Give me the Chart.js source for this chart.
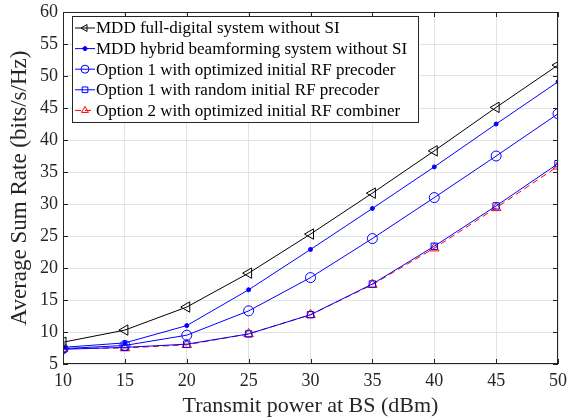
<!DOCTYPE html>
<html>
<head>
<meta charset="utf-8">
<script src="https://cdn.jsdelivr.net/npm/chart.js@4/dist/chart.umd.min.js"></script>
<style>
  html, body { margin: 0; padding: 0; background: #fff; }
  #wrap { width: 568px; height: 419px; }
</style>
</head>
<body>
<div id="wrap"><canvas id="c" width="568" height="419"></canvas></div>
<script>
// datos
var power = [10, 15, 20, 25, 30, 35, 40, 45, 50];
var fullDigital = [8.4, 10.3, 13.9, 19.2, 25.3, 31.7, 38.3, 45.1, 51.7];
var hybrid = [7.6, 8.3, 11.0, 16.6, 22.9, 29.3, 35.8, 42.5, 49.1];
var opt1Optimized = [7.4, 7.9, 9.5, 13.3, 18.5, 24.6, 31.0, 37.5, 44.1];
var opt1Random = [7.3, 7.6, 8.1, 9.7, 12.7, 17.5, 23.4, 29.7, 36.3];
var opt2Optimized = [7.4, 7.5, 8.0, 9.7, 12.7, 17.4, 23.1, 29.4, 35.9];
var xTicks = [10, 15, 20, 25, 30, 35, 40, 45, 50];
var yTicks = [5, 10, 15, 20, 25, 30, 35, 40, 45, 50, 55, 60];
var labels = [
    "MDD full-digital system without SI",
    "MDD hybrid beamforming system without SI",
    "Option 1 with optimized initial RF precoder",
    "Option 1 with random initial RF precoder",
    "Option 2 with optimized initial RF combiner"
];

var FONT = "'Liberation Serif', 'Times New Roman', serif";

function pts(vals) {
    return vals.map(function (v, i) { return { x: power[i], y: v }; });
}

var datasets = [
    { label: labels[0], data: pts(fullDigital), borderColor: "#000", pointBorderColor: "#000",
      pointBackgroundColor: "rgba(0,0,0,0)", pointStyle: "triangle", pointRotation: -90, pointRadius: 6, borderDash: [] },
    { label: labels[1], data: pts(hybrid), borderColor: "#0000ff", pointBorderColor: "#0000ff",
      pointBackgroundColor: "#0000ff", pointStyle: "circle", pointRadius: 2, borderDash: [] },
    { label: labels[2], data: pts(opt1Optimized), borderColor: "#0000ff", pointBorderColor: "#0000ff",
      pointBackgroundColor: "rgba(0,0,0,0)", pointStyle: "circle", pointRadius: 5, borderDash: [] },
    { label: labels[3], data: pts(opt1Random), borderColor: "#0000ff", pointBorderColor: "#0000ff",
      pointBackgroundColor: "rgba(0,0,0,0)", pointStyle: "rect", pointRadius: 4.5, borderDash: [] },
    { label: labels[4], data: pts(opt2Optimized), borderColor: "#ff0000", pointBorderColor: "#ff0000",
      pointBackgroundColor: "rgba(0,0,0,0)", pointStyle: "triangle", pointRadius: 5.5, borderDash: [6, 4] }
];
datasets.forEach(function (d) {
    d.borderWidth = 1;
    d.pointBorderWidth = 1;
    d.fill = false;
    d.tension = 0;
});

// caja, marcas hacia dentro y leyenda estilo matlab
var boxPlugin = {
    id: "box",
    afterDraw: function (chart) {
        var ctx = chart.ctx;
        var a = chart.chartArea;
        var xs = chart.scales.x, ys = chart.scales.y;
        ctx.save();
        ctx.strokeStyle = "#262626";
        ctx.lineWidth = 1;
        ctx.strokeRect(a.left + 0.5, a.top + 0.5, a.right - a.left - 1, a.bottom - a.top - 1);
        ctx.beginPath();
        xTicks.forEach(function (t) {
            var px = Math.round(xs.getPixelForValue(t)) + 0.5;
            ctx.moveTo(px, a.bottom); ctx.lineTo(px, a.bottom - 5);
            ctx.moveTo(px, a.top); ctx.lineTo(px, a.top + 5);
        });
        yTicks.forEach(function (t) {
            var py = Math.round(ys.getPixelForValue(t)) + 0.5;
            ctx.moveTo(a.left, py); ctx.lineTo(a.left + 5, py);
            ctx.moveTo(a.right, py); ctx.lineTo(a.right - 5, py);
        });
        ctx.stroke();

        // leyenda
        var lx = 72, ly = 16, lw = 346, lh = 106, rowH = 20.6;
        ctx.fillStyle = "#fff";
        ctx.fillRect(lx, ly, lw, lh);
        ctx.strokeStyle = "#262626";
        ctx.strokeRect(lx + 0.5, ly + 0.5, lw, lh);
        ctx.font = "17px " + FONT;
        ctx.textBaseline = "middle";
        chart.data.datasets.forEach(function (d, i) {
            var y = ly + 12 + i * rowH;
            ctx.strokeStyle = d.borderColor;
            ctx.lineWidth = 1;
            ctx.setLineDash(d.borderDash);
            ctx.beginPath();
            ctx.moveTo(lx + 3, y); ctx.lineTo(lx + 23, y);
            ctx.stroke();
            ctx.setLineDash([]);
            ctx.fillStyle = d.pointBackgroundColor;
            ctx.strokeStyle = d.pointBorderColor;
            Chart.helpers.drawPoint(ctx, {
                pointStyle: d.pointStyle, rotation: d.pointRotation || 0,
                radius: Math.min(d.pointRadius, 4), borderWidth: 1
            }, lx + 13, y);
            ctx.fillStyle = "#000";
            ctx.fillText(d.label, lx + 24, y + 1);
        });
        ctx.restore();
    }
};

new Chart(document.getElementById("c"), {
    type: "line",
    data: { datasets: datasets },
    plugins: [boxPlugin],
    options: {
        responsive: false,
        animation: false,
        events: [],
        layout: { padding: { top: 12, right: 10, left: 0, bottom: 0 } },
        plugins: { legend: { display: false }, tooltip: { enabled: false } },
        scales: {
            x: {
                type: "linear", min: 10, max: 50,
                afterBuildTicks: function (s) { s.ticks = xTicks.map(function (v) { return { value: v }; }); },
                afterFit: function (s) { s.height = 55; s.paddingLeft = 0; s.paddingRight = 0; },
                grid: { color: "#e3e3e3", drawTicks: false },
                border: { display: false },
                ticks: { color: "#262626", padding: 6, font: { family: FONT, size: 18 }, maxRotation: 0 },
                title: { display: true, text: "Transmit power at BS (dBm)", color: "#262626",
                         font: { family: FONT, size: 22 }, padding: { top: 0, bottom: 0 } }
            },
            y: {
                min: 5, max: 60,
                afterBuildTicks: function (s) { s.ticks = yTicks.map(function (v) { return { value: v }; }); },
                afterFit: function (s) { s.width = 63; s.paddingTop = 0; s.paddingBottom = 0; },
                grid: { color: "#e3e3e3", drawTicks: false },
                border: { display: false },
                ticks: { color: "#262626", padding: 5, font: { family: FONT, size: 18 } },
                title: { display: true, text: "Average Sum Rate (bits/s/Hz)", color: "#262626",
                         font: { family: FONT, size: 23 }, padding: { top: 6, bottom: 0 } }
            }
        }
    }
});
</script>
</body>
</html>
